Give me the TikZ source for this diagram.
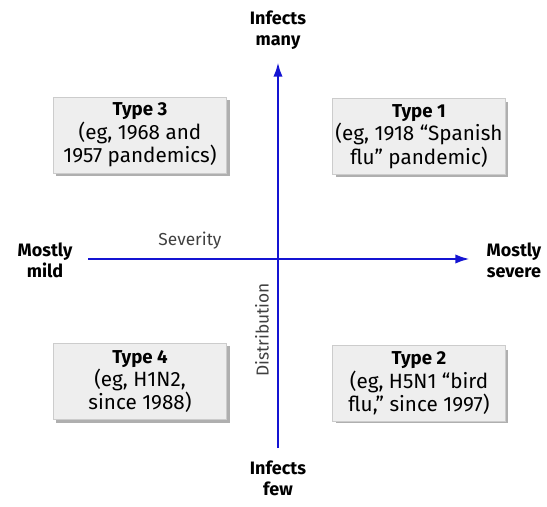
\documentclass[tikz,border=0pt]{standalone}
\usepackage{fontspec}
\setmainfont{Fira Sans}
\usetikzlibrary{arrows.meta}

\definecolor{axisblue}{RGB}{20,20,210}
\definecolor{boxgray}{RGB}{238,238,238}
\definecolor{shadowgray}{RGB}{175,175,175}

\tikzset{
  typebox/.style={draw=gray!40, fill=boxgray, minimum width=130pt, minimum height=57pt,
                  align=center, inner sep=0pt, font=\fontsize{15.5}{17.5}\selectfont},
  endlabel/.style={align=center, font=\bfseries\fontsize{13.5}{16}\selectfont},
  axislabel/.style={text=black!75, font=\fontsize{13}{15}\selectfont},
  axis/.style={line width=2pt, axisblue, -{Latex[length=11pt,width=7pt]}}
}
\newcommand{\typehead}[1]{{\bfseries\fontsize{14}{17.5}\selectfont #1}}

\begin{document}
\begin{tikzpicture}[x=0.75pt, y=-0.75pt]
            \useasboundingbox (0,0) rectangle (547,507);
            % ==== AXES ====
            \coordinate (left)   at (88,259);
            \coordinate (right)  at (470,259);
            \coordinate (bottom) at (278,448);
            \coordinate (top)    at (278,62);
            \draw[axis] (left) -- (right);
            \draw[axis] (bottom) -- (top);
            \node[axislabel] (sev) at (190,241) {Severity};
            \node[axislabel, rotate=90] (dist) at (262,330) {Distribution};

            % ==== AXIS END LABELS ====
            \node[endlabel] (many) at (278,30) {Infects\\many};
            \node[endlabel] (few) at (278,478) {Infects\\few};
            \node[endlabel, anchor=west] (mild) at (13,260) {Mostly\\mild};
            \node[endlabel, anchor=east] (severe) at (546,260) {Mostly\\severe};

            % ==== TYPES ====
            \fill[shadowgray] (56,100) rectangle (230,176);
            \node[typebox] (t3) at (140,135) {\typehead{Type 3}\\(eg, 1968 and\\1957 pandemics)};
            \fill[shadowgray] (336,102) rectangle (508,177);
            \node[typebox] (t1) at (419,136.5) {\typehead{Type 1}\\(eg, 1918 “Spanish\\flu” pandemic)};
            \fill[shadowgray] (56,346) rectangle (230,423);
            \node[typebox] (t4) at (140,381.5) {\typehead{Type 4}\\(eg, H1N2,\\since 1988)};
            \fill[shadowgray] (336,350) rectangle (508,423);
            \node[typebox] (t2) at (419,383.5) {\typehead{Type 2}\\(eg, H5N1 “bird\\flu,” since 1997)};
\end{tikzpicture}
\end{document}
